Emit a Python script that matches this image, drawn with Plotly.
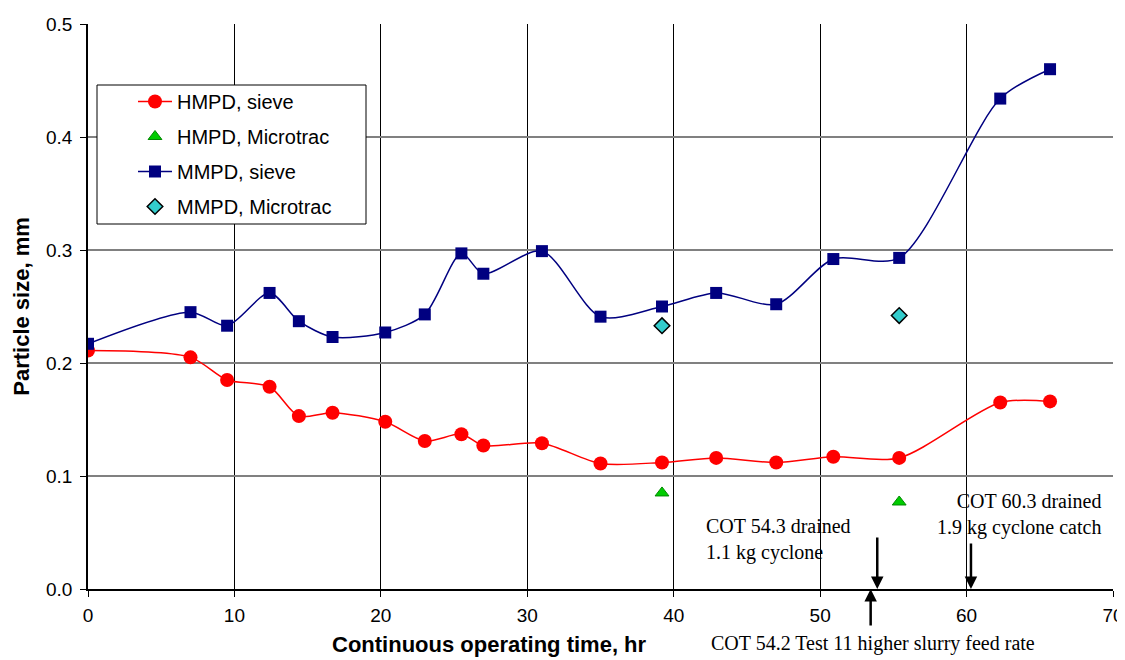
import plotly.graph_objects as go

# HMPD, sieve
hmpd_sieve_x = [0.0, 7.0, 9.5, 12.4, 14.4, 16.7, 20.3, 23.0, 25.5, 27.0, 31.0, 35.0, 39.2, 42.9, 47.0, 50.9, 55.4, 62.3, 65.7]
hmpd_sieve_y = [0.211, 0.205, 0.185, 0.179, 0.153, 0.156, 0.148, 0.131, 0.137, 0.127, 0.129, 0.111, 0.112, 0.116, 0.112, 0.117, 0.116, 0.165, 0.166]

# MMPD, sieve
mmpd_sieve_x = [0.0, 7.0, 9.5, 12.4, 14.4, 16.7, 20.3, 23.0, 25.5, 27.0, 31.0, 35.0, 39.2, 42.9, 47.0, 50.9, 55.4, 62.3, 65.7]
mmpd_sieve_y = [0.217, 0.245, 0.233, 0.262, 0.237, 0.223, 0.227, 0.243, 0.297, 0.279, 0.299, 0.241, 0.250, 0.262, 0.252, 0.292, 0.293, 0.434, 0.460]

# Microtrac points
hmpd_micro_x = [39.2, 55.4]
hmpd_micro_y = [0.085, 0.077]
mmpd_micro_x = [39.2, 55.4]
mmpd_micro_y = [0.233, 0.242]

x_ticks = [0, 10, 20, 30, 40, 50, 60, 70]
y_ticks = [0.0, 0.1, 0.2, 0.3, 0.4, 0.5]

fig = go.Figure()
fig.add_trace(go.Scatter(
    x=hmpd_sieve_x, y=hmpd_sieve_y, name="HMPD, sieve", mode="lines+markers",
    line=dict(color="#FF0000", width=1.5, shape="spline", smoothing=0.8),
    marker=dict(symbol="circle", size=14, color="#FF0000"), legendgroup="a"))
fig.add_trace(go.Scatter(
    x=hmpd_micro_x, y=hmpd_micro_y, name="HMPD, Microtrac", mode="markers",
    marker=dict(symbol="triangle-up", size=12, color="#00CC00",
                line=dict(color="#008800", width=1)), legendgroup="b"))
fig.add_trace(go.Scatter(
    x=mmpd_sieve_x, y=mmpd_sieve_y, name="MMPD, sieve", mode="lines+markers",
    line=dict(color="#000080", width=1.5, shape="spline", smoothing=0.8),
    marker=dict(symbol="square", size=12, color="#000080"), legendgroup="c"))
fig.add_trace(go.Scatter(
    x=mmpd_micro_x, y=mmpd_micro_y, name="MMPD, Microtrac", mode="markers",
    marker=dict(symbol="diamond", size=12, color="#33CCCC",
                line=dict(color="#000000", width=1.5)), legendgroup="d"))

serif = "Liberation Serif, Times New Roman, serif"
ann_font = dict(family=serif, size=20, color="black")

annotations = [
    # x-axis title (offset to the left of the plot centre, as in the original)
    dict(x=401 / 1025, y=-56 / 565, xref="paper", yref="paper",
         text="<b>Continuous operating time, hr</b>", showarrow=False,
         xanchor="center", yanchor="middle", font=dict(size=22, color="black")),
    dict(x=42.1, y=0.044, xref="x", yref="y", text="COT 54.3 drained<br>1.1 kg cyclone",
         showarrow=False, xanchor="left", yanchor="middle", align="left", font=ann_font),
    dict(x=69.3, y=0.066, xref="x", yref="y", text="COT 60.3 drained<br>1.9 kg cyclone catch",
         showarrow=False, xanchor="right", yanchor="middle", align="right", font=ann_font),
    dict(x=53.6, y=-54 / 565, xref="x", yref="paper", text="COT 54.2 Test 11 higher slurry feed rate",
         showarrow=False, xanchor="center", yanchor="middle", font=ann_font),
    dict(x=53.9, y=0.0, xref="x", yref="y", ax=0, ay=-53, showarrow=True,
         arrowhead=2, arrowsize=1, arrowwidth=2.5, arrowcolor="black", text="", standoff=0),
    dict(x=60.3, y=0.0, xref="x", yref="y", ax=0, ay=-47, showarrow=True,
         arrowhead=2, arrowsize=1, arrowwidth=2.5, arrowcolor="black", text="", standoff=0),
    dict(x=53.45, y=0.0, xref="x", yref="y", ax=0, ay=38, showarrow=True,
         arrowhead=2, arrowsize=1, arrowwidth=2.5, arrowcolor="black", text="", standoff=0),
]

# legend frame (pixel box converted to paper coords of the 1025x565 plot area)
shapes = [dict(type="rect", xref="paper", yref="paper",
               x0=9 / 1025, x1=278 / 1025, y0=365 / 565, y1=504 / 565,
               fillcolor="white", line=dict(color="black", width=1), layer="above")]

fig.update_layout(
    width=1125, height=660,
    # page body adds an 8px offset, so margins are shifted to compensate
    margin=dict(l=80, r=20, t=16, b=79, autoexpand=False),
    paper_bgcolor="white", plot_bgcolor="white",
    font=dict(family="Liberation Sans, Arial, sans-serif", size=19, color="black"),
    showlegend=True,
    legend=dict(x=45 / 1025, y=507 / 565, xanchor="left", yanchor="top",
                bgcolor="rgba(0,0,0,0)", borderwidth=0,
                font=dict(size=20), tracegroupgap=6, traceorder="grouped",
                itemwidth=34),
    shapes=shapes,
    annotations=annotations,
    xaxis=dict(range=[0, 70], tickvals=x_ticks, showgrid=True, gridcolor="#000000", gridwidth=1,
               showline=True, linecolor="black", linewidth=1.5, ticks="outside", ticklen=6,
               tickcolor="black", zeroline=False, automargin=False, ticklabelstandoff=2),
    yaxis=dict(range=[0, 0.5], tickvals=y_ticks, tickformat=".1f", showgrid=True,
               gridcolor="#808080", gridwidth=1.5,
               showline=True, linecolor="black", linewidth=1.5, ticks="outside", ticklen=6,
               tickcolor="black", zeroline=False, automargin=False, ticklabelstandoff=4,
               title=dict(text="<b>Particle size, mm</b>", font=dict(size=22), standoff=10)),
)

fig.write_html("out.html")
